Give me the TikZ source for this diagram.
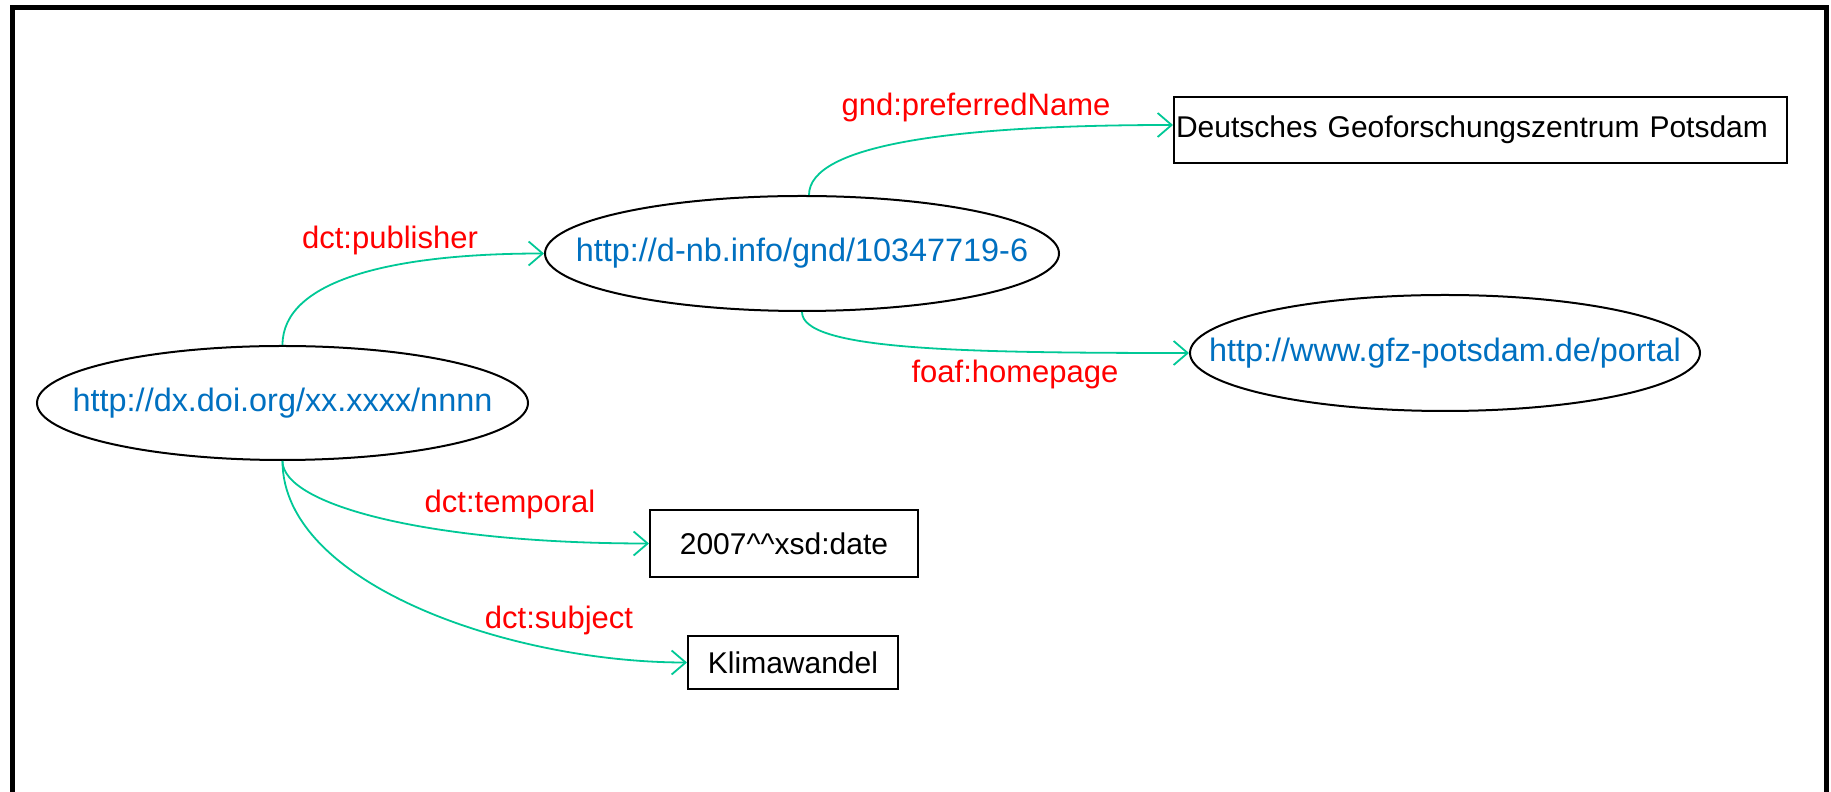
\documentclass[tikz,border=0pt]{standalone}
\usepackage{fontspec}
\setmainfont{Liberation Sans}
\usetikzlibrary{shapes.geometric,arrows.meta}

\definecolor{edgegreen}{RGB}{0,200,150}
\definecolor{uriblue}{RGB}{0,112,192}
\definecolor{propred}{RGB}{255,0,0}
\newcommand{\uritext}[1]{\makebox[0pt]{#1}}

\begin{document}
\begin{tikzpicture}[x=0.5pt,y=0.5pt,
    uri/.style={ellipse,draw,line width=1pt,inner sep=0pt,text=uriblue,font=\fontsize{16.2}{19}\selectfont},
    literal/.style={rectangle,draw,line width=1pt,inner sep=1pt,font=\fontsize{15}{18}\selectfont},
    prop/.style={text=propred,inner sep=0pt,font=\fontsize{15.5}{18}\selectfont},
    link/.style={draw=edgegreen,line width=0.9pt,-{Straight Barb[length=7pt,width=12pt]}}]
    \useasboundingbox (0,0) rectangle (1831,792);
    \draw[line width=2.5pt] (12,-10) -- (12,784.5) -- (1826.5,784.5) -- (1826.5,-10);

    \node[uri,minimum width=245.5pt,minimum height=57pt] (doi) at (282.5,389) {\uritext{http://dx.doi.org/xx.xxxx/nnnn}};
    \node[uri,minimum width=257pt,minimum height=57.5pt] (gnd) at (802,538.5) {\uritext{http://d-nb.info/gnd/10347719-6}};
    \node[uri,minimum width=255pt,minimum height=58pt] (gfz) at (1445,439) {\uritext{http://www.gfz-potsdam.de/portal}};
    \node[literal,minimum width=306.5pt,minimum height=33pt,text width=304.5pt,align=left] (dgp) at (1480.5,662) {Deutsches Geoforschungszentrum Potsdam};
    \node[literal,minimum width=134pt,minimum height=33.5pt] (date) at (784,248.5) {2007\textasciicircum\textasciicircum xsd:date};
    \node[literal,minimum width=105pt,minimum height=26.5pt] (klima) at (793,129.5) {Klimawandel};

    \draw[link] (doi.north) to[out=90,in=180,out looseness=0.6,in looseness=1.4] (gnd.west);
    \draw[link] ([xshift=3.5pt]gnd.north) to[out=90,in=180,out looseness=0.35,in looseness=1.5] ([yshift=2.5pt]dgp.west);
    \draw[link] (gnd.south) to[out=-90,in=180,out looseness=0.25,in looseness=1.5] (gfz.west);
    \draw[link] (doi.south) to[out=-90,in=180,out looseness=0.3,in looseness=1.5] (date.west);
    \draw[link] (doi.south) to[out=-90,in=180,out looseness=0.7,in looseness=1] (klima.west);

    \node[prop] (pub) at (390,552) {dct:publisher};
    \node[prop] (prefname) at (976,685) {gnd:preferredName};
    \node[prop] (homepage) at (1015,418) {foaf:homepage};
    \node[prop] (temporal) at (510,288) {dct:temporal};
    \node[prop] (subject) at (559,172) {dct:subject};
\end{tikzpicture}
\end{document}
